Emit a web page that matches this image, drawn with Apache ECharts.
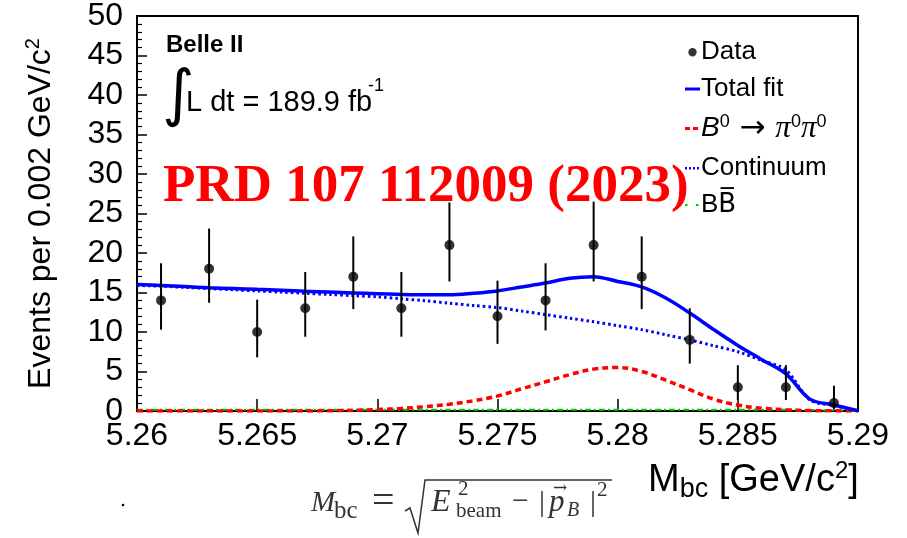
<!DOCTYPE html>
<html>
<head>
<meta charset="utf-8">
<script src="https://cdn.jsdelivr.net/npm/echarts@6/dist/echarts.min.js"></script>
<style>html,body{margin:0;padding:0;background:#fff;}#c{width:907px;height:538px;}</style>
</head>
<body>
<div id="c"></div>
<script>
// ---- data ----
const binCenters = [5.261, 5.263, 5.265, 5.267, 5.269, 5.271, 5.273, 5.275, 5.277, 5.279, 5.281, 5.283, 5.285, 5.287, 5.289];
const counts     = [14, 18, 10, 13, 17, 13, 21, 12, 14, 21, 17, 9, 3, 3, 1];
const errLow     = [10.3, 13.7, 6.8, 9.4, 12.9, 9.4, 16.4, 8.5, 10.2, 16.4, 12.9, 6.0, 1.4, 1.4, 0.2];
const errHigh    = [18.7, 23.1, 14.1, 17.6, 22.1, 17.6, 26.4, 16.5, 18.7, 26.5, 22.1, 13.0, 5.8, 5.8, 3.2];

const fitX = [5.260, 5.261, 5.262, 5.263, 5.264, 5.265, 5.266, 5.267, 5.268, 5.269,
              5.270, 5.271, 5.272, 5.273, 5.274, 5.275, 5.276, 5.277, 5.278, 5.279,
              5.280, 5.281, 5.282, 5.283, 5.284, 5.285, 5.286, 5.287, 5.288, 5.289, 5.290];
const totalFit = [16.0, 15.9, 15.75, 15.6, 15.5, 15.4, 15.3, 15.15, 15.05, 14.95,
                  14.85, 14.75, 14.7, 14.7, 14.9, 15.2, 15.7, 16.2, 16.8, 17.0,
                  16.4, 15.7, 14.3, 12.4, 10.3, 8.3, 6.5, 4.7, 1.5, 0.76, 0.05];
const continuum = [15.9, 15.8, 15.65, 15.5, 15.35, 15.2, 15.05, 14.9, 14.75, 14.6,
                   14.45, 14.2, 13.95, 13.65, 13.35, 13.1, 12.65, 12.2, 11.75, 11.3,
                   10.8, 10.3, 9.65, 9.0, 8.25, 7.5, 6.4, 5.2, 1.4, 0.7, 0.0];
const signal = [0, 0, 0, 0, 0, 0, 0, 0, 0.03, 0.08,
                0.18, 0.33, 0.55, 0.85, 1.3, 1.9, 2.8, 3.7, 4.6, 5.3,
                5.5, 5.0, 3.9, 2.7, 1.5, 0.75, 0.35, 0.15, 0.05, 0.02, 0];
const bbbar = [0.15, 0.15, 0.15, 0.15, 0.15, 0.15, 0.15, 0.15, 0.15, 0.15,
               0.15, 0.15, 0.15, 0.15, 0.15, 0.15, 0.15, 0.15, 0.15, 0.15,
               0.15, 0.15, 0.15, 0.15, 0.15, 0.15, 0.15, 0.15, 0.12, 0.08, 0.0];

const xTickMin = 5.26, xTickMax = 5.29, xTickStep = 0.005;
const yTickMin = 0, yTickMax = 50, yTickStep = 5;

// ---- chart ----
const chart = echarts.init(document.getElementById('c'), null, {renderer: 'canvas'});
const SANS = 'Liberation Sans, Arial, Helvetica, sans-serif';
const SERIF = 'Liberation Serif, Times New Roman, serif';
const FC = '#333';

const pairs = (ys) => fitX.map((x, i) => [x, ys[i]]);
const BOX = 'M0,0L0,0ZM15,10L15,10Z';

const option = {
  animation: false,
  backgroundColor: '#fff',
  textStyle: {fontFamily: SANS, color: '#000'},
  grid: {left: 137, right: 49, top: 16, bottom: 127, show: true, borderColor: '#000', borderWidth: 2, backgroundColor: 'transparent'},
  legend: {
    orient: 'vertical', left: 680, top: 34, itemGap: 11, itemWidth: 15, itemHeight: 10, z: 20,
    symbolKeepAspect: true,
    data: [
      {name: 'Data', icon: 'path://' + BOX + 'M7.5,1A4.2,4.2 0 1 1 7.5,9.4A4.2,4.2 0 1 1 7.5,1Z'},
      {name: 'Total fit', icon: 'path://' + BOX + 'M0,3.5H15V6.5H0Z'},
      {name: 'Signal', icon: 'path://' + BOX + 'M0,3.5H5V6.5H0ZM8,3.5H13V6.5H8Z'},
      {name: 'Continuum', icon: 'path://' + BOX + 'M0,4H2V6.5H0ZM4,4H6V6.5H4ZM8,4H10V6.5H8ZM12,4H14V6.5H12Z'},
      {name: 'BBbar', icon: 'path://' + BOX + 'M0,4H2.5V6H0ZM11,4H13.5V6H11Z'}
    ],
    selectedMode: false,
    textStyle: {
      fontSize: 26, fontFamily: SANS, color: '#000', padding: [0, 0, 0, -4],
      rich: {
        n: {fontSize: 26, fontFamily: SANS, lineHeight: 30},
        i: {fontSize: 31, fontFamily: SERIF, fontStyle: 'italic', lineHeight: 30},
        ai: {fontSize: 28, fontFamily: SANS, fontStyle: 'italic', lineHeight: 30},
        ar: {fontSize: 31, fontFamily: 'DejaVu Sans', lineHeight: 30},
        sup: {fontSize: 18, fontFamily: SANS, verticalAlign: 'top', lineHeight: 17},
        ov: {fontSize: 26, fontFamily: 'DejaVu Sans', lineHeight: 30}
      }
    },
    formatter: function (name) {
      if (name === 'Signal') return '{ai|B}{sup|0}{ar| \u2192 }{i|\u03c0}{sup|0}{i|\u03c0}{sup|0}';
      if (name === 'BBbar') return '{n|B}{ov|B\u0305}';
      return '{n|' + name + '}';
    }
  },
  xAxis: {
    type: 'value', min: xTickMin, max: xTickMax, interval: xTickStep,
    axisLine: {show: true, onZero: false, lineStyle: {color: '#000', width: 2}},
    axisTick: {show: true, inside: true, length: 12, lineStyle: {color: '#000', width: 1.5}},
    axisLabel: {show: true, fontSize: 32, color: '#000', fontFamily: SANS, margin: 9, hideOverlap: false,
      formatter: (v) => String(parseFloat(v.toFixed(3)))},
    splitLine: {show: false}
  },
  yAxis: {
    type: 'value', min: yTickMin, max: yTickMax, interval: yTickStep,
    axisLine: {show: true, lineStyle: {color: '#000', width: 2}},
    axisTick: {show: true, inside: true, length: 10, lineStyle: {color: '#000', width: 1.5}},
    minorTick: {show: true, splitNumber: 5, length: 5, lineStyle: {color: '#000', width: 1.2}},
    axisLabel: {show: true, fontSize: 32, color: '#000', fontFamily: SANS, margin: 14, hideOverlap: false},
    splitLine: {show: false}, minorSplitLine: {show: false},
    name: '{t|Events per 0.002 GeV/c}{s|2}',
    nameLocation: 'middle', nameRotate: 90, nameGap: 78,
    nameTextStyle: {
      fontSize: 32, fontFamily: SANS, color: '#000',
      rich: {
        t: {fontSize: 32, fontFamily: SANS, lineHeight: 36},
        s: {fontSize: 20, fontFamily: SANS, verticalAlign: 'top', lineHeight: 20}
      }
    }
  },
  series: [
    {
      name: 'BBbar', type: 'line', data: pairs(bbbar), symbol: 'none', smooth: 0.3, z: 2,
      lineStyle: {color: '#00cc00', width: 2, type: [6, 3, 2, 3]}, itemStyle: {color: '#00cc00'}
    },
    {
      name: 'Signal', type: 'line', data: pairs(signal), symbol: 'none', smooth: 0.4, z: 3,
      lineStyle: {color: '#ff0000', width: 3.5, type: [6, 4]}, itemStyle: {color: '#ff0000'}
    },
    {
      name: 'Continuum', type: 'line', data: pairs(continuum), symbol: 'none', smooth: 0.3, z: 3,
      lineStyle: {color: '#0000ff', width: 3, type: [2.5, 3]}, itemStyle: {color: '#0000ff'}
    },
    {
      name: 'Total fit', type: 'line', data: pairs(totalFit), symbol: 'none', smooth: 0.35, z: 4,
      lineStyle: {color: '#0000ff', width: 3.5}, itemStyle: {color: '#0000ff'}
    },
    {
      name: 'Errors', type: 'custom', z: 5,
      data: binCenters.map((x, i) => [x, errLow[i], errHigh[i]]),
      encode: {x: 0, y: [1, 2]},
      renderItem: function (params, api) {
        const p1 = api.coord([api.value(0), api.value(1)]);
        const p2 = api.coord([api.value(0), api.value(2)]);
        return {type: 'line', shape: {x1: p1[0], y1: p1[1], x2: p2[0], y2: p2[1]},
                style: {stroke: '#000', lineWidth: 2}};
      }
    },
    {
      name: 'Data', type: 'scatter', data: binCenters.map((x, i) => [x, counts[i]]),
      symbol: 'circle', symbolSize: 10, z: 6, itemStyle: {color: '#000'}
    }
  ],
  graphic: [
    {type: 'text', z: 10, style: {x: 166, y: 45, text: 'Belle II', font: 'bold 24px ' + SANS, fill: '#000', verticalAlign: 'middle'}},
    {type: 'text', z: 10, style: {x: 162, y: 98, text: '\u222b', fontSize: 62, fontFamily: 'DejaVu Sans', fill: '#000', verticalAlign: 'middle'}},
    {type: 'text', z: 10, style: {x: 186, y: 103, text: 'L dt = 189.9 fb', fontSize: 29, fontFamily: SANS, fill: '#000', verticalAlign: 'middle'}},
    {type: 'text', z: 10, style: {x: 368, y: 86, text: '-1', fontSize: 18, fontFamily: SANS, fill: '#000', verticalAlign: 'middle'}},
    {type: 'text', z: 10, style: {x: 163, y: 187, text: 'PRD 107 112009 (2023)', font: 'bold 53px ' + SERIF, fill: '#ff0000', verticalAlign: 'middle'}},
    // x-axis title
    {type: 'text', z: 10, style: {x: 648, y: 481, text: '{m|M}{sub|bc}{m| [GeV/c}{sup|2}{m|]}', verticalAlign: 'middle', fill: '#000',
      rich: {
        m: {fontSize: 38, fontFamily: SANS, lineHeight: 44},
        sub: {fontSize: 27, fontFamily: SANS, verticalAlign: 'bottom', lineHeight: 27},
        sup: {fontSize: 24, fontFamily: SANS, verticalAlign: 'top', lineHeight: 24}
      }}},
    // stray dot
    {type: 'circle', z: 10, shape: {cx: 123, cy: 505, r: 1.3}, style: {fill: '#000'}},
    // formula M_bc = sqrt(E_beam^2 - |p_B|^2)
    {type: 'text', z: 10, style: {x: 311, y: 503, text: 'M', font: 'italic 29px ' + SERIF, fill: FC, verticalAlign: 'middle'}},
    {type: 'text', z: 10, style: {x: 334, y: 511, text: 'bc', fontSize: 25, fontFamily: SERIF, fill: FC, verticalAlign: 'middle'}},
    {type: 'text', z: 10, style: {x: 372, y: 502, text: '=', fontSize: 40, fontFamily: SERIF, fill: FC, verticalAlign: 'middle'}},
    {type: 'polyline', z: 10, shape: {points: [[405, 511], [410, 508], [418, 533], [425, 480], [612, 480]]}, style: {stroke: FC, lineWidth: 1.5, fill: null}},
    {type: 'text', z: 10, style: {x: 431, y: 503, text: 'E', font: 'italic 32px ' + SERIF, fill: FC, verticalAlign: 'middle'}},
    {type: 'text', z: 10, style: {x: 458, y: 489, text: '2', fontSize: 21, fontFamily: SERIF, fill: FC, verticalAlign: 'middle'}},
    {type: 'text', z: 10, style: {x: 456, y: 511, text: 'beam', fontSize: 21, fontFamily: SERIF, fill: FC, verticalAlign: 'middle'}},
    {type: 'text', z: 10, style: {x: 512, y: 502, text: '\u2212', fontSize: 30, fontFamily: SERIF, fill: FC, verticalAlign: 'middle'}},
    {type: 'text', z: 10, style: {x: 539, y: 503, text: '|', fontSize: 30, fontFamily: SERIF, fill: FC, verticalAlign: 'middle'}},
    {type: 'text', z: 10, style: {x: 549, y: 503, text: 'p', font: 'italic 31px ' + SERIF, fill: FC, verticalAlign: 'middle'}},
    {type: 'text', z: 10, style: {x: 553, y: 489, text: '\u2192', fontSize: 17, fontFamily: 'DejaVu Serif', fill: FC, verticalAlign: 'middle'}},
    {type: 'text', z: 10, style: {x: 567, y: 511, text: 'B', font: 'italic 20px ' + SERIF, fill: FC, verticalAlign: 'middle'}},
    {type: 'text', z: 10, style: {x: 590, y: 503, text: '|', fontSize: 30, fontFamily: SERIF, fill: FC, verticalAlign: 'middle'}},
    {type: 'text', z: 10, style: {x: 597, y: 490, text: '2', fontSize: 21, fontFamily: SERIF, fill: FC, verticalAlign: 'middle'}}
  ]
};
chart.setOption(option);
</script>
</body>
</html>
